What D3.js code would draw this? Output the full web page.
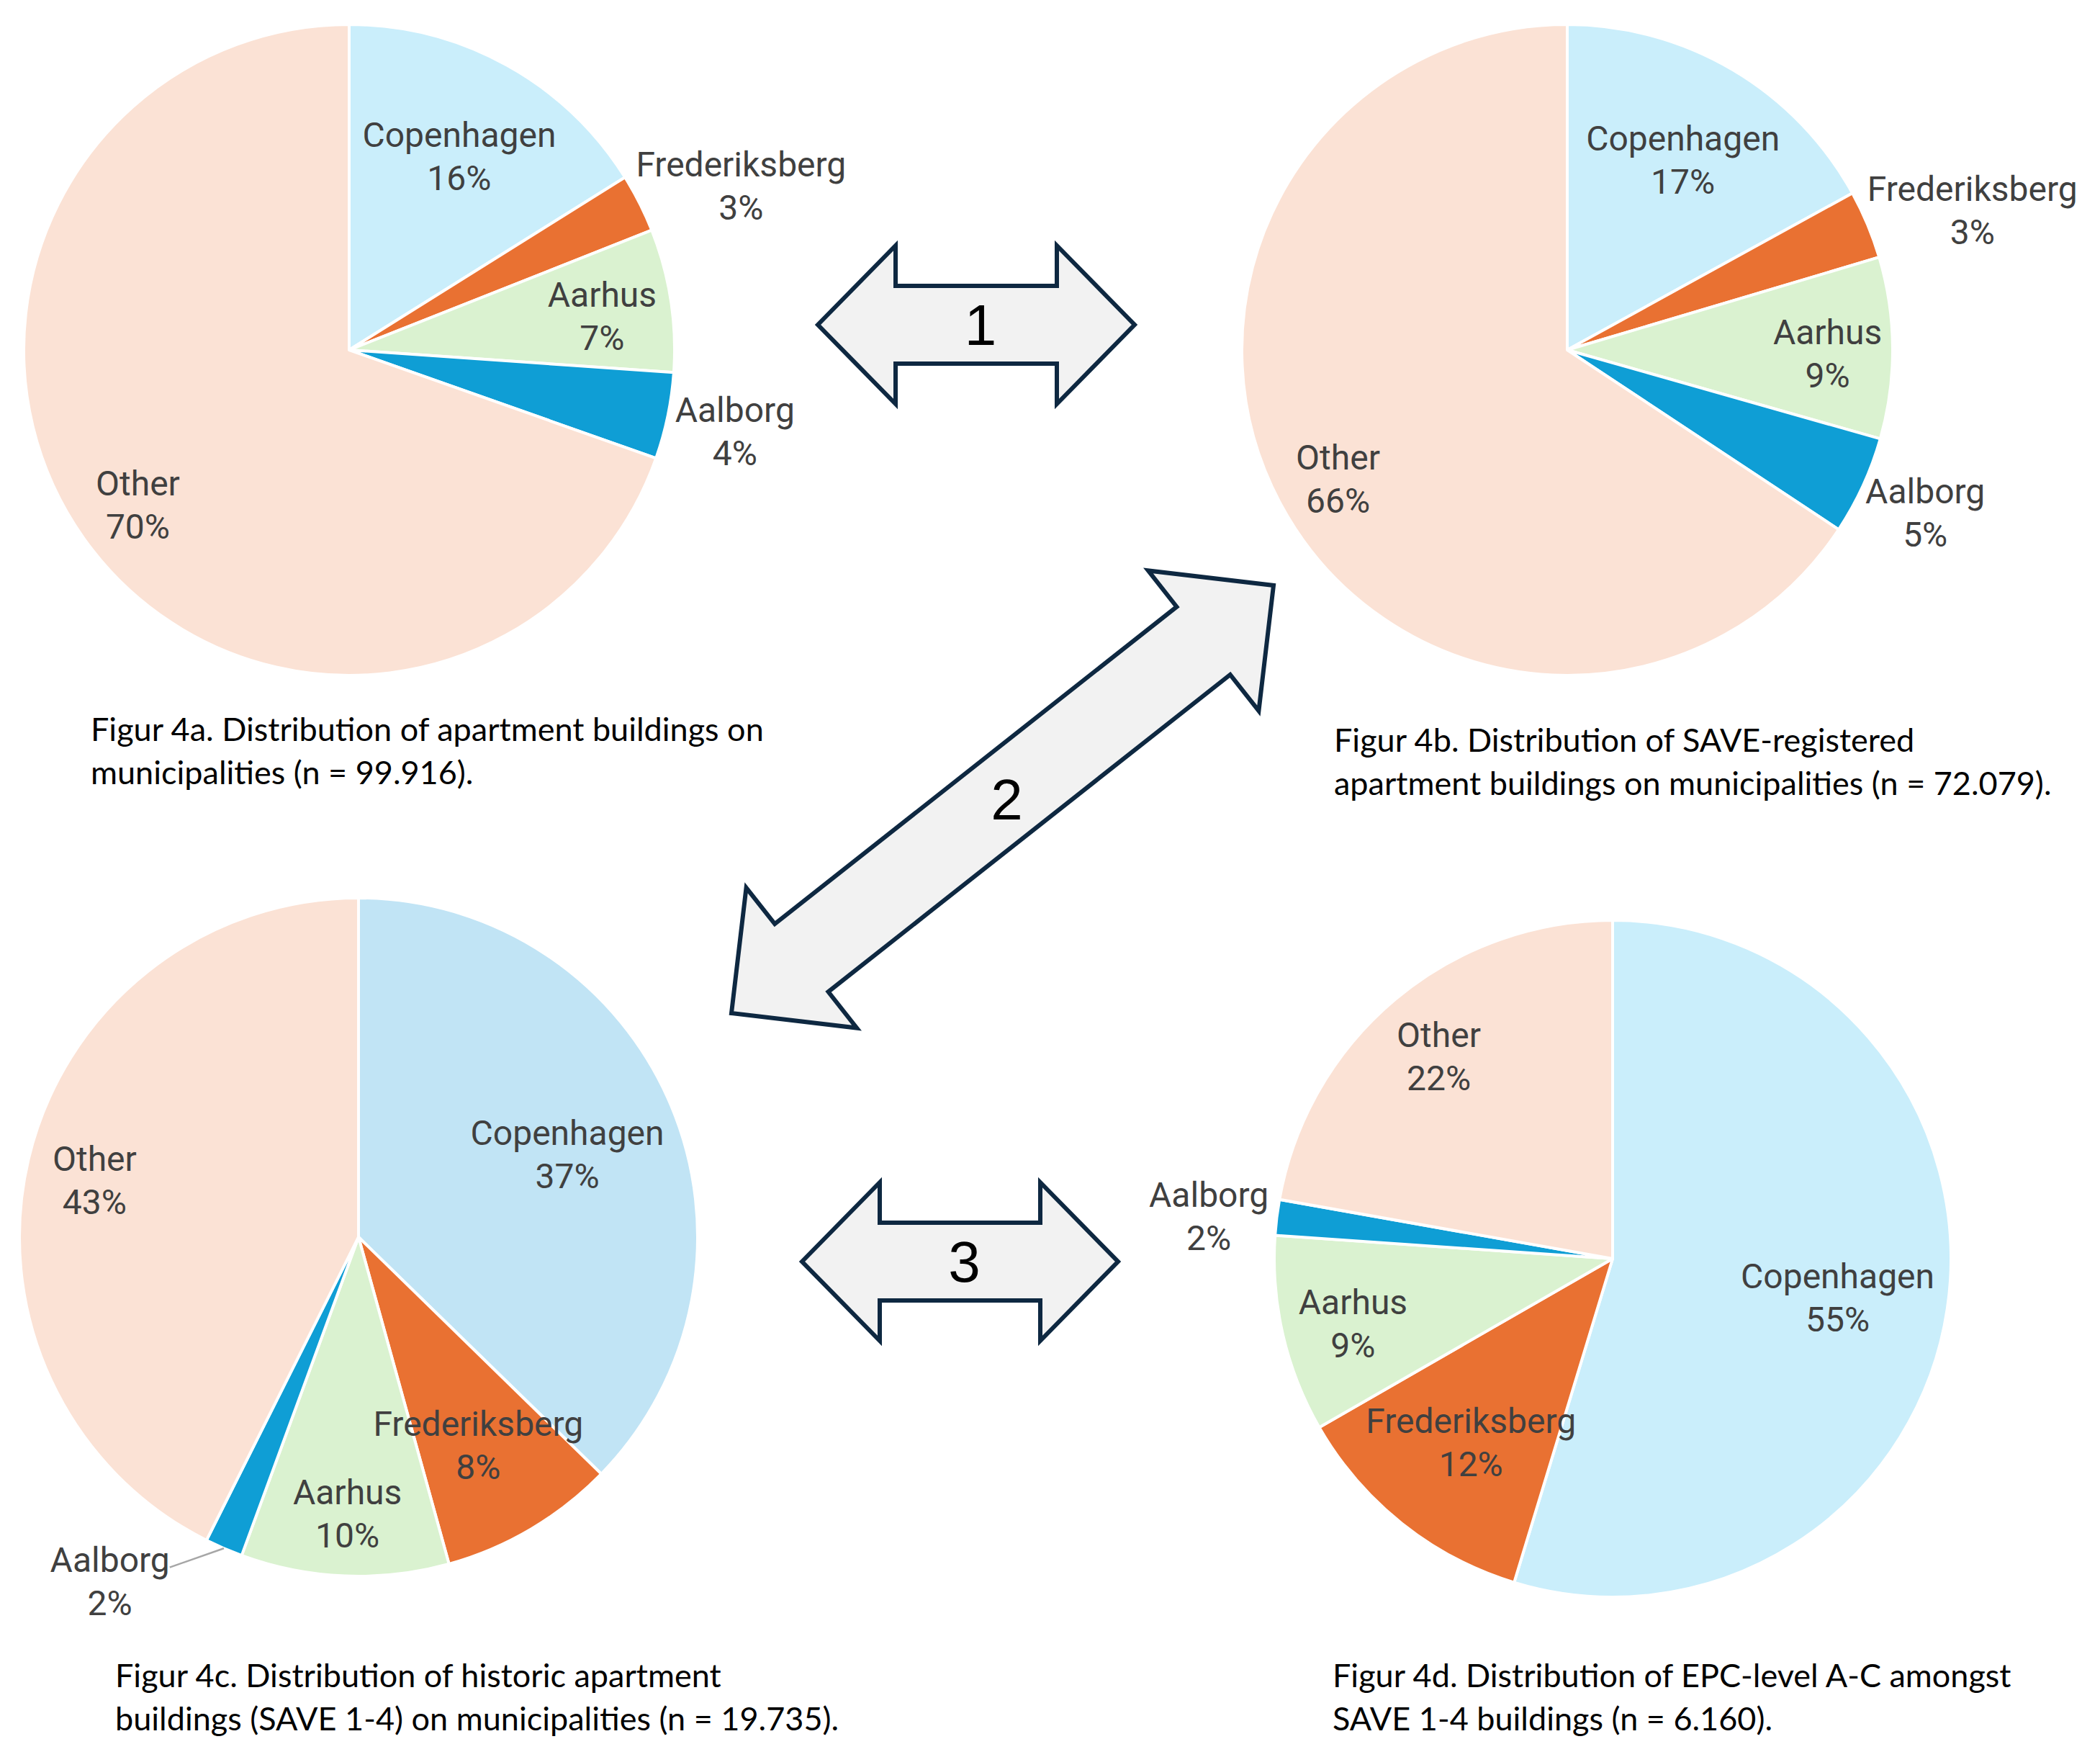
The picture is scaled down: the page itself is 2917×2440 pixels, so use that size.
<!DOCTYPE html>
<html>
<head>
<meta charset="utf-8">
<script src="https://cdn.jsdelivr.net/npm/d3@7"></script>
<style>
  body { margin: 0; background: #fff; }
</style>
</head>
<body>
<svg id="chart" width="2917" height="2440"></svg>
<script>
// categories, in clockwise order from 12 o'clock
const municipalities = ["Copenhagen", "Frederiksberg", "Aarhus", "Aalborg", "Other"];

// shares (%)
const shares4a = [16.1, 2.9, 7.1, 4.3, 69.6];
const shares4b = [17.0, 3.4, 9.0, 4.9, 65.7];
const shares4c = [37.3, 8.4, 9.9, 1.8, 42.6];
const shares4d = [54.7, 12.0, 9.4, 1.7, 22.2];

// figure captions
const caption4a = ["Figur 4a. Distribution of apartment buildings on", "municipalities (n = 99.916)."];
const caption4b = ["Figur 4b. Distribution of SAVE-registered", "apartment buildings on municipalities (n = 72.079)."];
const caption4c = ["Figur 4c. Distribution of historic apartment", "buildings (SAVE 1-4) on municipalities (n = 19.735)."];
const caption4d = ["Figur 4d. Distribution of EPC-level A-C amongst", "SAVE 1-4 buildings (n = 6.160)."];

// comparison arrow numbers
const arrowLabels = ["1", "2", "3"];

const color = d3.scaleOrdinal()
    .domain(municipalities)
    .range(["#CAEEFB", "#E97132", "#DAF2D0", "#0F9ED5", "#FBE2D5"]);

const svg = d3.select("#chart");

const labelFont = "Roboto, 'Open Sans', sans-serif";
const labelSize = 48;
const lineGap = 60;

// where each pie goes on the page
const layout = [
    {values: shares4a, cx: 485, cy: 486, r: 452, caption: caption4a, capX: 126, capY: 1029},
    {values: shares4b, cx: 2177, cy: 486, r: 452, caption: caption4b, capX: 1853, capY: 1044},
    {values: shares4c, cx: 498, cy: 1718, r: 471, caption: caption4c, capX: 160, capY: 2343, cph: "#C1E4F5"},
    {values: shares4d, cx: 2240, cy: 1748, r: 470, caption: caption4d, capX: 1851, capY: 2343}
];

function drawPie(cfg) {
    let g = svg.append("g").attr("transform", `translate(${cfg.cx},${cfg.cy})`);
    let arcs = d3.pie().sort(null).value(d => d)(cfg.values);
    let arc = d3.arc().innerRadius(0).outerRadius(cfg.r);

    g.selectAll("path")
        .data(arcs)
        .join("path")
        .attr("d", arc)
        .attr("fill", (d, i) => (i === 0 && cfg.cph) ? cfg.cph : color(municipalities[i]))
        .attr("stroke", "#fff")
        .attr("stroke-width", 4)
        .attr("stroke-linejoin", "round");

    arcs.forEach((a, i) => {
        let mid = (a.startAngle + a.endAngle) / 2;
        let dx = Math.sin(mid), dy = -Math.cos(mid);
        let lab = g.append("text")
            .attr("font-family", labelFont)
            .attr("font-size", labelSize)
            .attr("fill", "#404040")
            .attr("text-anchor", "middle");
        lab.append("tspan").attr("x", 0).attr("y", -lineGap / 2).attr("dominant-baseline", "central").text(municipalities[i]);
        lab.append("tspan").attr("x", 0).attr("y", lineGap / 2).attr("dominant-baseline", "central").text(Math.round(a.value) + "%");
        let bb = lab.node().getBBox();
        let hw = bb.width / 2, hh = bb.height / 2;
        let x, y;
        if (a.value >= 6) {
            // inside: pull in until the text box sits inside the circle
            let t = 0.8 * cfg.r;
            while (t > 0) {
                x = dx * t; y = dy * t;
                if (Math.hypot(Math.abs(x) + hw, Math.abs(y) + hh) <= 0.98 * cfg.r) break;
                t -= 2;
            }
        } else {
            // outside end
            let t = cfg.r + 12;
            x = dx * t + dx * hw;
            y = dy * t + dy * hh;
            if (Math.abs(dy) > 0.8) {
                x += Math.sign(dx) * 1.45 * hw;
                y -= Math.sign(dy) * 0.45 * hh;
                let ex = x - Math.sign(dx) * hw;
                g.append("line")
                    .attr("x1", dx * cfg.r).attr("y1", dy * cfg.r)
                    .attr("x2", ex).attr("y2", y - lineGap / 2 + 18)
                    .attr("stroke", "#A6A6A6")
                    .attr("stroke-width", 2.5);
            }
        }
        lab.attr("transform", `translate(${x},${y + 8})`);
    });

    svg.append("text")
        .attr("font-family", "Lato, 'Open Sans', sans-serif")
        .attr("font-size", 45)
        .attr("fill", "#000")
        .selectAll("tspan")
        .data(cfg.caption)
        .join("tspan")
        .attr("x", cfg.capX)
        .attr("y", (d, i) => cfg.capY + i * 60)
        .text(d => d);
}

layout.forEach(drawPie);

// double headed block arrows between the figures
const arrows = [
    {x1: 1136, y1: 451, x2: 1576, y2: 451, shaft: 54, head: 110, len: 108},
    {x1: 1016, y1: 1407, x2: 1769, y2: 813, shaft: 60, head: 124, len: 124},
    {x1: 1114, y1: 1752, x2: 1553, y2: 1752, shaft: 54, head: 110, len: 108}
];

function arrowPoints(a) {
    let L = Math.hypot(a.x2 - a.x1, a.y2 - a.y1);
    let ux = (a.x2 - a.x1) / L, uy = (a.y2 - a.y1) / L;
    let nx = -uy, ny = ux;
    let local = [
        [0, 0], [a.len, -a.head], [a.len, -a.shaft], [L - a.len, -a.shaft], [L - a.len, -a.head],
        [L, 0], [L - a.len, a.head], [L - a.len, a.shaft], [a.len, a.shaft], [a.len, a.head]
    ];
    return local.map(p => [a.x1 + ux * p[0] + nx * p[1], a.y1 + uy * p[0] + ny * p[1]]);
}

svg.selectAll("polygon.arrow")
    .data(arrows)
    .join("polygon")
    .attr("class", "arrow")
    .attr("points", d => arrowPoints(d).map(p => p.join(",")).join(" "))
    .attr("fill", "#F2F2F2")
    .attr("stroke", "#0E2841")
    .attr("stroke-width", 6)
    .attr("stroke-linejoin", "miter");

svg.selectAll("text.num")
    .data(arrows)
    .join("text")
    .attr("class", "num")
    .attr("x", d => (d.x1 + d.x2) / 2 + 6)
    .attr("y", d => (d.y1 + d.y2) / 2)
    .attr("text-anchor", "middle")
    .attr("dominant-baseline", "central")
    .attr("font-family", "'Liberation Sans', Arial, sans-serif")
    .attr("font-size", 80)
    .attr("fill", "#000")
    .text((d, i) => arrowLabels[i]);
</script>
</body>
</html>
